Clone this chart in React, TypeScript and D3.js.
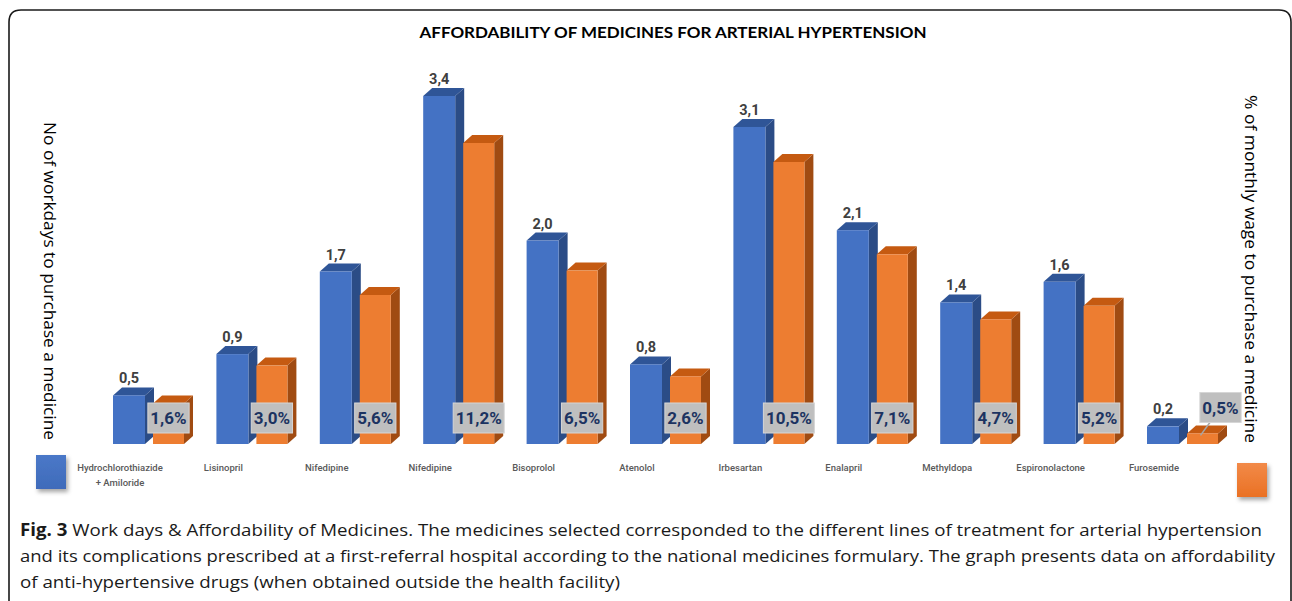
import React, { useEffect, useRef } from 'react';
import * as d3 from 'd3';

// Chart data
const medicines = [
  'Hydrochlorothiazide|+ Amiloride',
  'Lisinopril',
  'Nifedipine',
  'Nifedipine',
  'Bisoprolol',
  'Atenolol',
  'Irbesartan',
  'Enalapril',
  'Methyldopa',
  'Espironolactone',
  'Furosemide',
];
const workdays = [0.5, 0.9, 1.7, 3.4, 2.0, 0.8, 3.1, 2.1, 1.4, 1.6, 0.2];
const wagePercent = [1.6, 3.0, 5.6, 11.2, 6.5, 2.6, 10.5, 7.1, 4.7, 5.2, 0.5];

const chartTitle = 'AFFORDABILITY OF MEDICINES FOR ARTERIAL HYPERTENSION';
const leftAxisLabel = 'No of workdays to purchase a medicine';
const rightAxisLabel = '% of monthly wage to purchase a medicine';
const captionLines = [
  { bold: 'Fig. 3', text: ' Work days & Affordability of Medicines. The medicines selected corresponded to the different lines of treatment for arterial hypertension', width: 1242 },
  { bold: '', text: 'and its complications prescribed at a first-referral hospital according to the national medicines formulary. The graph presents data on affordability', width: 1255 },
  { bold: '', text: 'of anti-hypertensive drugs (when obtained outside the health facility)', width: 600 },
];

const WIDTH = 1292;
const HEIGHT = 601;

const commaLocale = d3.formatLocale({ decimal: ',', thousands: '.', grouping: [3], currency: ['', ''] });
const fmt1 = commaLocale.format('.1f');

const blueColors = { front: '#4472C4', side: '#2B4C86', top: '#2F5597' };
const orangeColors = { front: '#ED7D31', side: '#A04B12', top: '#C55A11' };
const narrowFont = 'Roboto, "Liberation Sans Narrow", sans-serif';

const App = () => {
  const svgRef = useRef<SVGSVGElement | null>(null);

  useEffect(() => {
    const svg = d3.select(svgRef.current);
    svg.selectAll('*').remove();

    const floorY = 444;
    const depthX = 9;
    const depthY = 8;
    const blueW = 32;
    const orangeW = 31;

    // scales
    const x = d3.scaleBand<number>()
      .domain(d3.range(medicines.length))
      .range([95, 95 + medicines.length * 103.4]);
    const yDays = d3.scaleLinear().domain([0, 3.4]).range([447, 96]);
    const yWage = d3.scaleLinear().domain([0, 11.2]).range([447, 143]);

    // defs: gradients and shadow for legend squares
    const defs = svg.append('defs');
    const shadow = defs.append('filter').attr('id', 'legShadow').attr('x', '-30%').attr('y', '-30%').attr('width', '170%').attr('height', '170%');
    shadow.append('feDropShadow').attr('dx', 2).attr('dy', 3).attr('stdDeviation', 2).attr('flood-color', '#000').attr('flood-opacity', 0.35);
    const gradB = defs.append('linearGradient').attr('id', 'gradBlue').attr('x1', 0).attr('y1', 0).attr('x2', 0).attr('y2', 1);
    gradB.append('stop').attr('offset', '0%').attr('stop-color', '#4A78C8');
    gradB.append('stop').attr('offset', '100%').attr('stop-color', '#3F6BBA');
    const gradO = defs.append('linearGradient').attr('id', 'gradOrange').attr('x1', 0).attr('y1', 0).attr('x2', 0).attr('y2', 1);
    gradO.append('stop').attr('offset', '0%').attr('stop-color', '#F28A48');
    gradO.append('stop').attr('offset', '100%').attr('stop-color', '#EA7124');

    svg.append('rect').attr('width', WIDTH).attr('height', HEIGHT).attr('fill', '#fff');

    // card border with rounded top corners
    svg.append('path')
      .attr('d', `M9,${HEIGHT + 2} V22 Q9,10 21,10 H1279 Q1291,10 1291,22 V${HEIGHT + 2}`)
      .attr('fill', 'none')
      .attr('stroke', '#1a1a1a')
      .attr('stroke-width', 1.6);

    // title
    svg.append('text')
      .attr('x', 673)
      .attr('y', 38)
      .attr('text-anchor', 'middle')
      .attr('font-family', 'Lato, "Open Sans", sans-serif')
      .attr('font-weight', 700)
      .attr('font-size', 15)
      .attr('textLength', 507)
      .attr('lengthAdjust', 'spacingAndGlyphs')
      .attr('fill', '#000')
      .text(chartTitle);

    // axis titles (rotated, reading top to bottom)
    svg.append('text')
      .attr('transform', 'translate(50,281) rotate(90)')
      .attr('text-anchor', 'middle')
      .attr('dominant-baseline', 'central')
      .attr('font-family', '"Open Sans", sans-serif')
      .attr('font-size', 17)
      .attr('textLength', 318)
      .attr('lengthAdjust', 'spacingAndGlyphs')
      .attr('fill', '#000')
      .text(leftAxisLabel);

    svg.append('text')
      .attr('transform', 'translate(1251,269) rotate(90)')
      .attr('text-anchor', 'middle')
      .attr('dominant-baseline', 'central')
      .attr('font-family', '"Open Sans", sans-serif')
      .attr('font-size', 17)
      .attr('textLength', 348)
      .attr('lengthAdjust', 'spacingAndGlyphs')
      .attr('fill', '#000')
      .text(rightAxisLabel);

    const bars = svg.append('g').attr('class', 'bars');

    const drawBar3d = (x0: number, w: number, top: number, colors: { front: string; side: string; top: string }) => {
      const g = bars.append('g');
      g.append('path')
        .attr('d', `M${x0 + w},${top} L${x0 + w + depthX},${top - depthY} L${x0 + w + depthX},${floorY - depthY} L${x0 + w},${floorY} Z`)
        .attr('fill', colors.side);
      g.append('path')
        .attr('d', `M${x0},${top} L${x0 + depthX},${top - depthY} L${x0 + w + depthX},${top - depthY} L${x0 + w},${top} Z`)
        .attr('fill', colors.top);
      g.append('rect')
        .attr('x', x0)
        .attr('y', top)
        .attr('width', w)
        .attr('height', Math.max(0, floorY - top))
        .attr('fill', colors.front);
    };

    medicines.forEach((_, i) => {
      const bx = (x(i) as number) + 18;
      const ox = bx + 40;
      drawBar3d(bx, blueW, yDays(workdays[i]), blueColors);
      drawBar3d(ox, orangeW, yWage(wagePercent[i]), orangeColors);
    });

    // blue value labels
    svg.append('g')
      .selectAll('text')
      .data(workdays)
      .enter()
      .append('text')
      .attr('x', (d, i) => (x(i) as number) + 18 + blueW / 2)
      .attr('y', d => yDays(d) - 12)
      .attr('text-anchor', 'middle')
      .attr('font-family', narrowFont)
      .attr('font-weight', 700)
      .attr('font-size', 14.5)
      .attr('fill', '#404040')
      .text(d => fmt1(d));

    // orange value labels in grey boxes
    const wageLabels = svg.append('g').attr('class', 'wage-labels');
    wagePercent.forEach((d, i) => {
      const ox = (x(i) as number) + 18 + 40;
      const top = yWage(d);
      const raised = top > 410;
      const cx = raised ? ox + orangeW / 2 + 18 : ox + orangeW / 2;
      const cy = raised ? 407.5 : 418;
      const lg = wageLabels.append('g');
      const rect = lg.append('rect');
      const t = lg.append('text')
        .attr('x', cx)
        .attr('y', cy + 6)
        .attr('text-anchor', 'middle')
        .attr('font-family', narrowFont)
        .attr('font-weight', 700)
        .attr('font-size', 17)
        .attr('fill', '#1C3361')
        .text(`${fmt1(d)}%`);
      const tw = (t.node() as SVGTextElement).getComputedTextLength();
      const bw = tw + 5;
      const bh = 30;
      rect
        .attr('x', cx - bw / 2)
        .attr('y', cy - bh / 2)
        .attr('width', bw)
        .attr('height', bh)
        .attr('fill', '#BFBFBF')
        .attr('stroke', '#D6D6D6')
        .attr('stroke-width', 1);
      if (raised) {
        lg.insert('line', 'rect')
          .attr('x1', cx - bw / 2 + 10)
          .attr('y1', cy + bh / 2)
          .attr('x2', ox + orangeW / 2 - 2)
          .attr('y2', top + 2)
          .attr('stroke', '#A6A6A6')
          .attr('stroke-width', 1.5);
      }
    });

    // category labels
    const cats = svg.append('g').attr('class', 'categories');
    medicines.forEach((m, i) => {
      const lines = m.split('|');
      const cx = (x(i) as number) + 18 + 7;
      lines.forEach((line, j) => {
        cats.append('text')
          .attr('x', cx)
          .attr('y', 471 + j * 15)
          .attr('text-anchor', 'middle')
          .attr('font-family', narrowFont)
          .attr('font-weight', 500)
          .attr('font-size', 9.5)
          .attr('fill', '#595959')
          .text(line);
      });
    });

    // legend squares
    svg.append('rect')
      .attr('x', 36).attr('y', 455).attr('width', 30).attr('height', 34)
      .attr('fill', 'url(#gradBlue)')
      .attr('filter', 'url(#legShadow)');
    svg.append('rect')
      .attr('x', 1237).attr('y', 463).attr('width', 30).attr('height', 34)
      .attr('fill', 'url(#gradOrange)')
      .attr('filter', 'url(#legShadow)');

    // caption
    const cap = svg.append('g').attr('class', 'caption');
    captionLines.forEach((line, i) => {
      const t = cap.append('text')
        .attr('x', 20)
        .attr('y', 536 + i * 26)
        .attr('font-family', '"Open Sans", sans-serif')
        .attr('font-size', 17)
        .attr('fill', '#1a1a1a')
        .attr('textLength', line.width)
        .attr('lengthAdjust', 'spacingAndGlyphs');
      if (line.bold) t.append('tspan').attr('font-weight', 700).text(line.bold);
      t.append('tspan').text(line.text);
    });
  }, []);

  return (
    <svg
      ref={svgRef}
      width={WIDTH}
      height={HEIGHT}
      style={{ position: 'absolute', left: 0, top: 0, display: 'block' }}
    />
  );
};

export default App;
